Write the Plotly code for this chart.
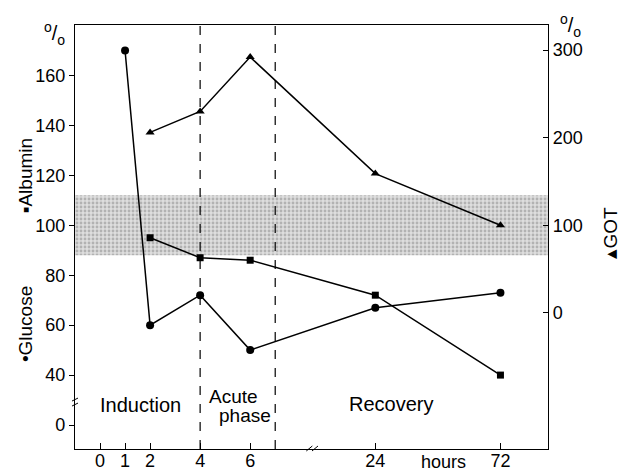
import plotly.graph_objects as go

# ---- data ----
hours_glucose = [1, 2, 4, 6, 24, 72]
glucose = [170, 60, 72, 50, 67, 73]
hours_albumin = [2, 4, 6, 24, 72]
albumin = [95, 87, 86, 72, 40]
hours_got = [2, 4, 6, 24, 72]
got = [206, 230, 292, 159, 100]
band_low, band_high = 88, 112
phase_bounds = [4, 7]
x_tick_hours = [0, 1, 2, 4, 6, 24, 72]
left_tick_vals = [0, 40, 60, 80, 100, 120, 140, 160]
right_tick_vals = [0, 100, 200, 300]

# broken x axis: linear up to 7 h, compressed afterwards
def xpos(h):
    return h if h <= 7 else 8.5 + h * 5 / 48

# broken left axis: 0 drawn at 20
def ypos(v):
    return 20 if v == 0 else v

W, H = 626, 473
L, R, T, B = 75, 547.7, 24.5, 449
XR = [-1, 17.9]
YR = [10.4, 180.2]
Y2R = [100 - (B - 225) / 0.877, 100 + (225 - T) / 0.877]

def px(x):
    return (x - L) / (R - L)

def py(y):
    return (B - y) / (B - T)

fig = go.Figure()

# normal range band (stippled)
fig.add_trace(go.Scatter(
    x=[XR[0], XR[1], XR[1], XR[0], XR[0]],
    y=[band_low, band_low, band_high, band_high, band_low],
    fill="toself", mode="none", hoverinfo="skip",
    fillcolor="#dedede",
    fillpattern=dict(shape=".", fgcolor="#858585", bgcolor="#dedede", size=4, solidity=0.4),
    showlegend=False))

line = dict(color="black", width=1.5)
fig.add_trace(go.Scatter(x=[xpos(h) for h in hours_glucose], y=glucose, mode="lines+markers",
                         line=line, marker=dict(symbol="circle", size=8, color="black"),
                         showlegend=False))
fig.add_trace(go.Scatter(x=[xpos(h) for h in hours_albumin], y=albumin, mode="lines+markers",
                         line=line, marker=dict(symbol="square", size=7, color="black"),
                         showlegend=False))
fig.add_trace(go.Scatter(x=[xpos(h) for h in hours_got], y=got, mode="lines+markers", yaxis="y2",
                         line=line, marker=dict(symbol="triangle-up", size=8, color="black"),
                         showlegend=False))

shapes = []
for b in phase_bounds:
    shapes.append(dict(type="line", xref="x", yref="paper", x0=xpos(b), x1=xpos(b), y0=0, y1=1,
                       line=dict(color="black", width=1.2, dash="dash")))
# axis break marks
for dx in (-0.006, 0.006):
    shapes.append(dict(type="line", xref="paper", yref="paper",
                       x0=px(309) + dx, x1=px(315) + dx, y0=py(451), y1=py(446),
                       line=dict(color="black", width=1)))
for dy in (-2.5, 2.5):
    shapes.append(dict(type="line", xref="paper", yref="paper",
                       x0=px(72), x1=px(78), y0=py(402 + dy + 1.5), y1=py(402 + dy - 1.5),
                       line=dict(color="black", width=1)))

font = "Liberation Sans, Arial, sans-serif"
ann = []
def A(text, x, y, size=20, angle=0, xanchor="center"):
    ann.append(dict(text=text, x=px(x), y=py(y), xref="paper", yref="paper", showarrow=False,
                    font=dict(size=size, color="black", family=font), textangle=angle,
                    xanchor=xanchor, yanchor="middle"))

A("<sup>o</sup>/<sub>o</sub>", 55, 33, size=20)
A("<sup>o</sup>/<sub>o</sub>", 570, 25, size=20)
A("Induction", 140, 405, size=20)
A("Acute", 233, 396, size=19)
A("phase", 245, 415, size=19)
A("Recovery", 391, 404, size=20)
A("hours", 443, 462, size=18)
A("▪Albumin", 25, 175, size=19, angle=-90)
A("•Glucose", 25, 324, size=19, angle=-90)
A("▴GOT", 610, 232, size=19, angle=-90)

tf = dict(size=18)
fig.update_layout(
    width=W, height=H,
    margin=dict(l=L, r=W - R, t=T, b=H - B, pad=0, autoexpand=False),
    paper_bgcolor="white", plot_bgcolor="white",
    font=dict(family=font, size=18, color="black"),
    shapes=shapes, annotations=ann,
    xaxis=dict(range=XR, showgrid=False, zeroline=False, showline=True, linecolor="black",
               linewidth=1.3, mirror=True, ticks="inside", ticklen=6, tickcolor="black",
               tickvals=[xpos(h) for h in x_tick_hours], ticktext=[str(h) for h in x_tick_hours],
               tickfont=tf, automargin=False, ticklabelstandoff=-5),
    yaxis=dict(range=YR, showgrid=False, zeroline=False, showline=True, linecolor="black",
               linewidth=1.3, ticks="outside", ticklen=5, tickcolor="black",
               tickvals=[ypos(v) for v in left_tick_vals], ticktext=[str(v) for v in left_tick_vals],
               tickfont=tf, automargin=False),
    yaxis2=dict(range=Y2R, overlaying="y", side="right", showgrid=False, zeroline=False,
                showline=True, linecolor="black", linewidth=1.3, ticks="inside", ticklen=5,
                tickcolor="black", tickvals=right_tick_vals, ticktext=[str(v) for v in right_tick_vals],
                tickfont=tf, automargin=False),
)

fig.write_html("out.html", config={"displayModeBar": False},
               post_script="document.body.style.margin='0';document.body.style.overflow='hidden';")
